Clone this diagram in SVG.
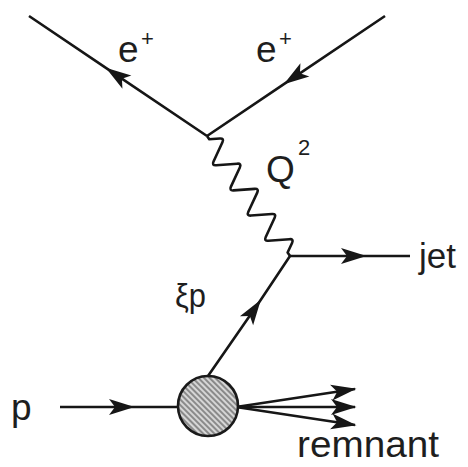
<svg xmlns="http://www.w3.org/2000/svg" width="468" height="467" viewBox="0 0 468 467">
<defs>
<style>
.ln{fill:none;stroke:#161616;stroke-width:2.6;stroke-linejoin:round}
.t{font-family:"Liberation Sans",Arial,Helvetica,sans-serif;fill:#1e1e1e}
</style>
<marker id="arr" markerUnits="userSpaceOnUse" markerWidth="30" markerHeight="20" viewBox="-27 -10 30 20" refX="0" refY="0" orient="auto" overflow="visible">
<path d="M1.5,0 L-24,-8 L-18,0 L-24,8 Z" fill="#161616"/>
</marker>
<pattern id="hatch" patternUnits="userSpaceOnUse" width="4" height="4" patternTransform="rotate(-45)">
<rect width="4" height="4" fill="#d6d6d6"/>
<line x1="1" y1="0" x2="1" y2="4" stroke="#6a6a6a" stroke-width="1.4"/>
</pattern>
</defs>
<rect width="468" height="467" fill="#ffffff"/>
<g id="connectors">
<path class="ln" d="M207,136 L107,68.6 L29,16" marker-mid="url(#arr)"/>
<path class="ln" d="M385,16 L285,83.4 L207,136" marker-mid="url(#arr)"/>
<path class="ln" transform="translate(207,136) rotate(55.33)" d="M0,0 L4,0 L9.35,-9.1 Q11.65,-13 13.95,-9.1 L24.65,9.1 Q26.95,13 29.25,9.1 L39.95,-9.1 Q42.25,-13 44.55,-9.1 L55.25,9.1 Q57.55,13 59.85,9.1 L70.55,-9.1 Q72.85,-13 75.15,-9.1 L85.85,9.1 Q88.15,13 90.45,9.1 L101.15,-9.1 Q103.45,-13 105.75,-9.1 L116.45,9.1 Q118.75,13 121.05,9.1 L131.75,-9.1 Q134.05,-13 136.35,-9.1 L141.7,0 L146,0"/>
<path class="ln" d="M290,256 L365,256 L410,256" marker-mid="url(#arr)"/>
<path class="ln" d="M208,376 L260,301 L290,256" marker-mid="url(#arr)"/>
<path class="ln" d="M60,407 L133,407 L178,407" marker-mid="url(#arr)"/>
<path class="ln" d="M236,407 L355,389" marker-end="url(#arr)"/>
<path class="ln" d="M236,407 L355,407" marker-end="url(#arr)"/>
<path class="ln" d="M236,407 L355,425" marker-end="url(#arr)"/>
</g>
<g id="proton-blob">
<circle cx="208" cy="406" r="30" fill="url(#hatch)" stroke="#1a1a1a" stroke-width="2.6"/>
</g>
<g id="label-e-out">
<text class="t" x="118" y="62" font-size="37">e</text>
<text class="t" x="141" y="46" font-size="22">+</text>
</g>
<g id="label-e-in">
<text class="t" x="256" y="62" font-size="37">e</text>
<text class="t" x="279" y="46" font-size="22">+</text>
</g>
<g id="label-Q2">
<text class="t" x="266" y="182" font-size="37">Q</text>
<text class="t" x="298" y="155" font-size="22">2</text>
</g>
<g id="label-jet">
<text class="t" x="419" y="268" font-size="35">jet</text>
</g>
<g id="label-xip">
<text class="t" x="175" y="307" font-size="34" textLength="31" lengthAdjust="spacingAndGlyphs">ξp</text>
</g>
<g id="label-p">
<text class="t" x="11" y="420" font-size="37">p</text>
</g>
<g id="label-remnant">
<text class="t" x="297" y="457" font-size="37" textLength="142" lengthAdjust="spacingAndGlyphs">remnant</text>
</g>
</svg>
